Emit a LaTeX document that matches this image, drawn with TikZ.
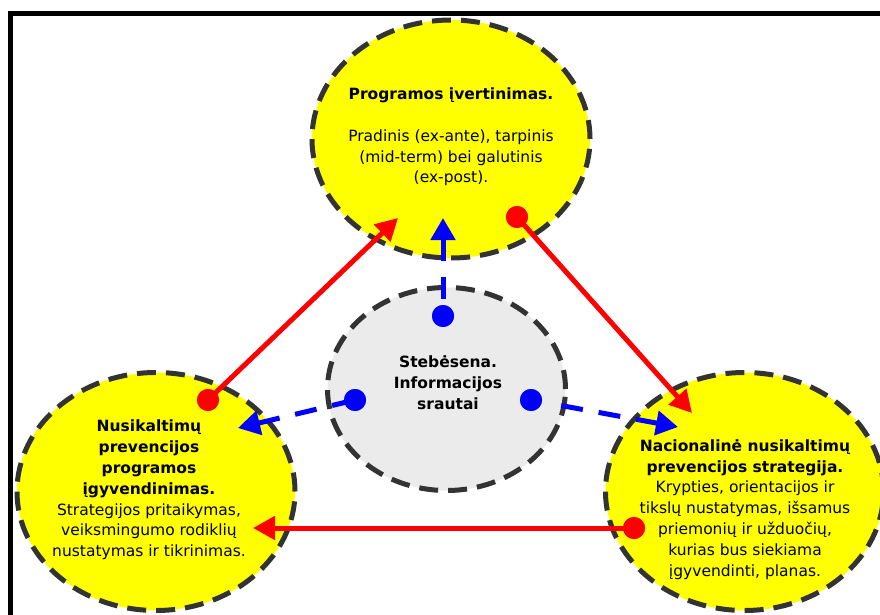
\documentclass[tikz,border=0pt]{standalone}
\usepackage{fontspec}
\setmainfont{DejaVu Sans}
\usetikzlibrary{arrows.meta,shapes.geometric}
\definecolor{myyellow}{RGB}{255,255,0}
\definecolor{mygray}{RGB}{235,235,235}
\definecolor{dashgray}{RGB}{51,51,51}
\definecolor{myred}{RGB}{255,0,0}
\definecolor{myblue}{RGB}{0,0,255}
\begin{document}
\begin{tikzpicture}[x=1pt,y=-1pt,
  bubble/.style={ellipse, draw=dashgray, line width=5pt, dash pattern=on 19pt off 10pt,
    minimum width=278pt, minimum height=238pt, inner sep=0pt, fill=myyellow},
  graybubble/.style={bubble, fill=mygray, minimum width=238pt, minimum height=203pt},
  txt/.style={align=center, inner sep=0pt, font=\fontsize{15.5pt}{20.8pt}\selectfont},
  reddot/.style={circle, fill=myred, minimum size=22pt, inner sep=0pt},
  bluedot/.style={circle, fill=myblue, minimum size=22pt, inner sep=0pt},
  redarrow/.style={draw=myred, line width=5pt, -{Triangle[length=22pt,width=23pt]}},
  bluearrow/.style={draw=myblue, line width=5pt, dash pattern=on 22pt off 16pt,
    {Triangle[length=22pt,width=24pt]}-},
]
\useasboundingbox (0,0) rectangle (880,615);
\fill[white] (0,0) rectangle (880,615);
% frame
\draw[line width=5pt, line join=miter] (10.5,615) -- (10.5,13.5) -- (880,13.5);
% ellipses
\node[bubble] (top) at (451,139) {};
\node[bubble] (left) at (156,491.5) {};
\node[bubble] (right) at (744.5,491.5) {};
\node[graybubble] (mid) at (446.5,389) {};
% texts
\node[txt] (topt) at (451,137) {\textbf{Programos įvertinimas.}\\[20.8pt]Pradinis (ex-ante), tarpinis\\(mid-term) bei galutinis\\(ex-post).};
\node[txt] (midt) at (448,383) {\textbf{Stebėsena.}\\\textbf{Informacijos}\\\textbf{srautai}};
\node[txt] (leftt) at (149,490) {\textbf{Nusikaltimų}\\\textbf{prevencijos}\\\textbf{programos}\\\textbf{įgyvendinimas.}\\Strategijos pritaikymas,\\veiksmingumo rodiklių\\nustatymas ir tikrinimas.};
\node[txt] (rightt) at (745,509.5) {\textbf{Nacionalinė nusikaltimų}\\\textbf{prevencijos strategija.}\\Krypties, orientacijos ir\\tikslų nustatymas, išsamus\\priemonių ir užduočių,\\kurias bus siekiama\\įgyvendinti, planas.};
% dots
\node[reddot] (dL) at (208,400) {};
\node[reddot] (dT) at (517,217) {};
\node[reddot] (dR) at (634,528) {};
\node[bluedot] (bU) at (443,316) {};
\node[bluedot] (bL) at (355,400) {};
\node[bluedot] (bR) at (531,400) {};
% tips
\coordinate (tT) at (398,218);
\coordinate (tR) at (692,413);
\coordinate (tL) at (253,528);
\coordinate (uT) at (443,218);
\coordinate (uL) at (238,428);
\coordinate (uR) at (678,427);
% arrows
\draw[redarrow] (dL.center) -- (tT);
\draw[redarrow] (dT.center) -- (tR);
\draw[redarrow] (dR.center) -- (tL);
\draw[bluearrow] (uT) -- (bU.center);
\draw[bluearrow] (uL) -- (bL.center);
\draw[bluearrow, shorten >=22pt] (uR) -- (bR.center);
% dots on top
\node[reddot] at (dL) {};
\node[reddot] at (dT) {};
\node[reddot] at (dR) {};
\node[bluedot] at (bU) {};
\node[bluedot] at (bL) {};
\node[bluedot] at (bR) {};
\end{tikzpicture}
\end{document}
